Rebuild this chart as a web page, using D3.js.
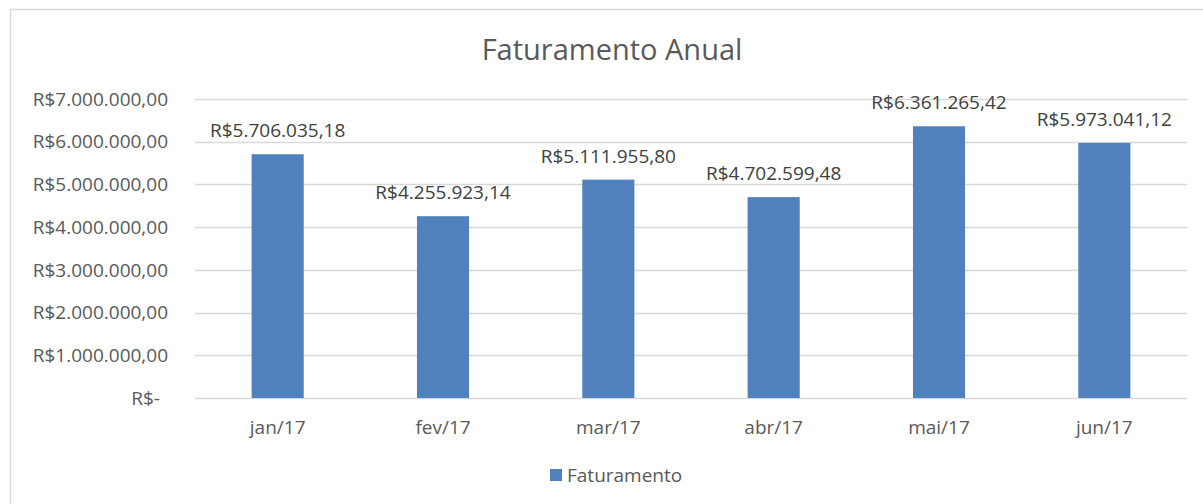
<!DOCTYPE html>
<html>
<head>
<meta charset="utf-8">
<script src="https://cdn.jsdelivr.net/npm/d3@7"></script>
<style>
  body { margin: 0; background: #fff; }
  svg { font-family: "Open Sans", Lato, sans-serif; }
</style>
</head>
<body>
<div id="plot"></div>
<script>
// Chart data
const months = ['jan/17', 'fev/17', 'mar/17', 'abr/17', 'mai/17', 'jun/17'];
const faturamento = [5706035.18, 4255923.14, 5111955.80, 4702599.48, 6361265.42, 5973041.12];
const yTicks = [0, 1000000, 2000000, 3000000, 4000000, 5000000, 6000000, 7000000];

const W = 1203, H = 504;
const margin = { top: 99, right: 16, bottom: 106, left: 195 };
const width = W - margin.left - margin.right;
const height = H - margin.top - margin.bottom;
const fontSize = '19px';

const svg = d3.select('#plot').append('svg').attr('width', W).attr('height', H);

// chart frame
svg.append('rect')
  .attr('x', 10.5).attr('y', 9.5)
  .attr('width', W).attr('height', H)
  .attr('fill', 'none').attr('stroke', '#d9d9d9').attr('stroke-width', 1.5);

const g = svg.append('g').attr('transform', `translate(${margin.left},${margin.top})`);

const x = d3.scaleBand().domain(months).range([0, width]).paddingInner(0.685).paddingOuter(0.3425);
const y = d3.scaleLinear().domain([0, 7000000]).range([height, 0]);

// brazilian currency format
const brl = d3.formatLocale({ decimal: ',', thousands: '.', grouping: [3], currency: ['R$', ''] });
const fmt = (v) => v === 0 ? 'R$-' : 'R$' + brl.format(',.2f')(v);

// grid lines
g.append('g')
  .selectAll('line')
  .data(yTicks)
  .enter()
  .append('line')
  .attr('x1', 0).attr('x2', width)
  .attr('y1', (d) => Math.round(y(d)) + 0.5).attr('y2', (d) => Math.round(y(d)) + 0.5)
  .attr('stroke', '#d9d9d9').attr('stroke-width', 1.3);

// y labels
g.append('g')
  .selectAll('text')
  .data(yTicks)
  .enter()
  .append('text')
  .attr('x', (d) => d === 0 ? -35 : -27)
  .attr('y', (d) => y(d))
  .attr('dy', '0.35em')
  .attr('text-anchor', 'end')
  .style('font-size', fontSize)
  .style('fill', '#595959')
  .text(fmt);

// bars
g.selectAll('rect.bar')
  .data(faturamento)
  .enter()
  .append('rect')
  .attr('class', 'bar')
  .attr('x', (d, i) => x(months[i]))
  .attr('y', (d) => y(d))
  .attr('width', x.bandwidth())
  .attr('height', (d) => height - y(d))
  .attr('fill', '#4f81bd');

// value labels
g.selectAll('text.val')
  .data(faturamento)
  .enter()
  .append('text')
  .attr('class', 'val')
  .attr('x', (d, i) => x(months[i]) + x.bandwidth() / 2)
  .attr('y', (d) => y(d) - 17)
  .attr('text-anchor', 'middle')
  .style('font-size', fontSize)
  .style('fill', '#404040')
  .text(fmt);

// x labels
g.selectAll('text.xl')
  .data(months)
  .enter()
  .append('text')
  .attr('class', 'xl')
  .attr('x', (d) => x(d) + x.bandwidth() / 2)
  .attr('y', height + 36)
  .attr('text-anchor', 'middle')
  .style('font-size', fontSize)
  .style('fill', '#595959')
  .text((d) => d);

// title
svg.append('text')
  .attr('x', 612).attr('y', 60)
  .attr('text-anchor', 'middle')
  .style('font-size', '29px')
  .style('fill', '#595959')
  .text('Faturamento Anual');

// legend
svg.append('rect')
  .attr('x', 550).attr('y', 469)
  .attr('width', 12).attr('height', 12)
  .attr('fill', '#4f81bd');
svg.append('text')
  .attr('x', 567).attr('y', 482)
  .style('font-size', fontSize)
  .style('fill', '#595959')
  .text('Faturamento');
</script>
</body>
</html>
